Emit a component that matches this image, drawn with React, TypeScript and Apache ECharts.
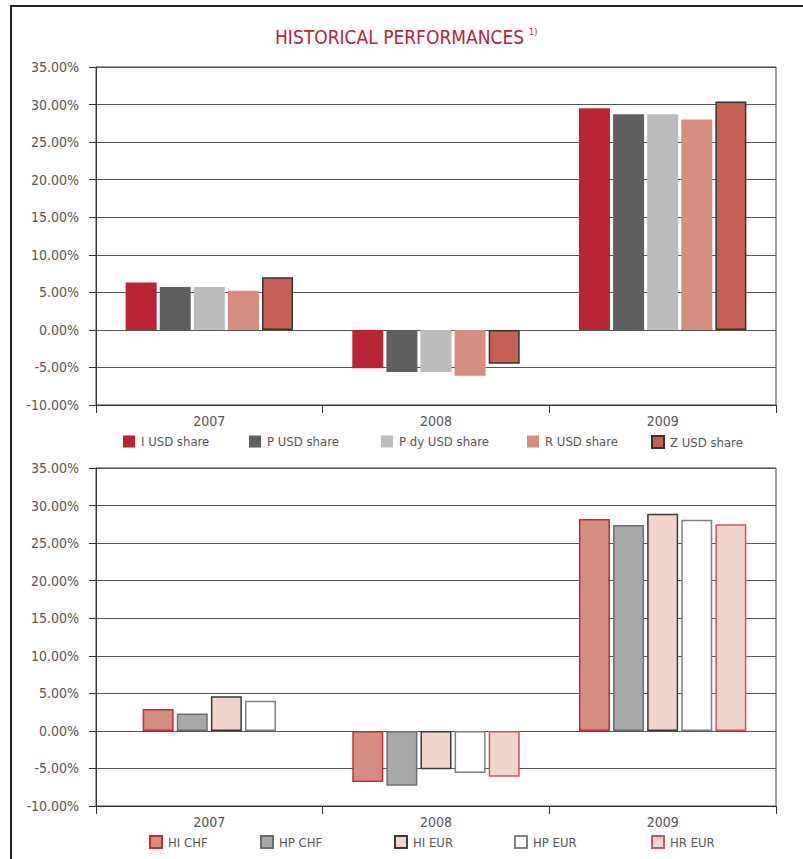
import React, { useEffect, useRef } from "react";
import * as echarts from "echarts";

const years = ["2007", "2008", "2009"];
const yTicks = { min: -10, max: 35, interval: 5 };

const topNames = ["I USD share", "P USD share", "P dy USD share", "R USD share", "Z USD share"];
const iUsd = [6.3, -5.1, 29.5];
const pUsd = [5.7, -5.6, 28.7];
const pDyUsd = [5.7, -5.6, 28.7];
const rUsd = [5.2, -6.1, 28.0];
const zUsd = [7.0, -4.5, 30.4];
const topValues = [iUsd, pUsd, pDyUsd, rUsd, zUsd];

const bottomNames = ["HI CHF", "HP CHF", "HI EUR", "HP EUR", "HR EUR"];
const hiChf = [2.9, -6.8, 28.2];
const hpChf = [2.3, -7.3, 27.4];
const hiEur = [4.6, -5.1, 28.9];
const hpEur = [4.0, -5.6, 28.1];
const hrEur = [null, -6.1, 27.5];
const bottomValues = [hiChf, hpChf, hiEur, hpEur, hrEur];

const topFill = ["#B82534", "#5E5F61", "#BBBCBE", "#D58D7F", "#C66055"];
const topBorder = [null, null, null, null, "#333333"];
const bottomFill = ["#D58D7F", "#A7A8AA", "#EFD5CE", "#FFFFFF", "#EFD5CE"];
const bottomBorder = ["#C8283A", "#6D6E71", "#3A3A3A", "#808080", "#D0505F"];

const topLegendX = [123, 249, 381, 527, 651];
const bottomLegendX = [149, 260, 394, 514, 651];

const FONT = "'Liberation Sans Narrow', 'DejaVu Sans Condensed', 'Liberation Sans', sans-serif";
const TEXT = "#555555";
const LINE = "#555555";

export default function App() {
  const ref = useRef<HTMLDivElement>(null);
  useEffect(() => {
    if (!ref.current) return;
    const chart = echarts.init(ref.current, null, { renderer: "svg" });

    const yAxisBase = (gridIndex: number) => ({
      type: "value",
      gridIndex,
      min: yTicks.min,
      max: yTicks.max,
      interval: yTicks.interval,
      axisLine: { show: true, lineStyle: { color: "#333", width: 1 } },
      axisTick: { show: true, length: 7, lineStyle: { color: "#333", width: 1 } },
      axisLabel: {
        margin: 17,
        color: TEXT,
        fontFamily: FONT,
        fontSize: 14,
        formatter: (v: number) => v.toFixed(2) + "%",
      },
      splitLine: { show: true, lineStyle: { color: LINE, width: 1 } },
    });

    const xAxisBase = (gridIndex: number, show = true) => ({
      type: "category",
      gridIndex,
      data: years,
      show,
      axisLine: { show: true, onZero: false, lineStyle: { color: "#333", width: 1 } },
      axisTick: { show: true, length: 8, lineStyle: { color: "#333", width: 1 } },
      axisLabel: { margin: 9, color: TEXT, fontFamily: FONT, fontSize: 14 },
      splitLine: { show: false },
    });

    const series: any[] = [];
    topNames.forEach((name, i) => {
      series.push({
        type: "bar",
        name,
        xAxisIndex: 0,
        yAxisIndex: 0,
        data: topValues[i],
        barWidth: 31,
        barGap: "10%",
        itemStyle: {
          color: topFill[i],
          borderColor: topBorder[i] || topFill[i],
          borderWidth: topBorder[i] ? 1.5 : 0,
        },
      });
    });
    // bottom chart: 2008 & 2009 with 5 series, 2007 with the 4 available series
    bottomNames.forEach((name, i) => {
      series.push({
        type: "bar",
        name,
        xAxisIndex: 1,
        yAxisIndex: 1,
        data: bottomValues[i].map((v, k) => (k === 0 ? null : v)),
        barWidth: 31,
        barGap: "10%",
        itemStyle: { color: bottomFill[i], borderColor: bottomBorder[i], borderWidth: 1.5 },
      });
    });
    bottomNames.forEach((name, i) => {
      if (bottomValues[i][0] === null) return;
      series.push({
        type: "bar",
        name,
        xAxisIndex: 2,
        yAxisIndex: 1,
        data: bottomValues[i].map((v, k) => (k === 0 ? v : null)),
        barWidth: 31,
        barGap: "10%",
        itemStyle: { color: bottomFill[i], borderColor: bottomBorder[i], borderWidth: 1.5 },
      });
    });

    const legendBase = {
      padding: 0,
      itemWidth: 12,
      itemHeight: 12,
      itemGap: 6,
      icon: "rect",
      selectedMode: false,
      textStyle: { color: TEXT, fontFamily: FONT, fontSize: 13, padding: [0, 0, 0, 1] },
    };
    const legends: any[] = [];
    topNames.forEach((name, i) => {
      legends.push({ ...legendBase, data: [name], left: topLegendX[i], top: 435 });
    });
    bottomNames.forEach((name, i) => {
      legends.push({ ...legendBase, data: [name], left: bottomLegendX[i], top: 835 });
    });

    chart.setOption({
      animation: false,
      backgroundColor: "#ffffff",
      title: {
        text: "{a|HISTORICAL PERFORMANCES} {b|1)}",
        left: 275,
        top: 27,
        padding: 0,
        textStyle: {
          fontWeight: "normal",
          rich: {
            a: { fontFamily: FONT, fontSize: 19, fontWeight: "normal", color: "#B82535" },
            b: { fontFamily: FONT, fontSize: 9, fontWeight: "normal", color: "#B82535", verticalAlign: "top", padding: [0, 0, 8, 0] },
          },
        },
      },
      grid: [
        { left: 96, right: 27, top: 67, height: 338, show: true, borderColor: "#444", borderWidth: 1, backgroundColor: "transparent" },
        { left: 96, right: 27, top: 468, height: 338, show: true, borderColor: "#444", borderWidth: 1, backgroundColor: "transparent" },
      ],
      xAxis: [xAxisBase(0), xAxisBase(1), xAxisBase(1, false)],
      yAxis: [yAxisBase(0), yAxisBase(1)],
      legend: legends,
      series,
      graphic: [
        { type: "line", shape: { x1: 11, y1: 5, x2: 11, y2: 859 }, style: { stroke: "#222", lineWidth: 2 } },
        { type: "line", shape: { x1: 10, y1: 6, x2: 803, y2: 6 }, style: { stroke: "#222", lineWidth: 2 } },
      ],
    });
    return () => chart.dispose();
  }, []);

  return (
    <div
      ref={ref}
      style={{ position: "fixed", left: 0, top: 0, width: 803, height: 859, background: "#fff" }}
    />
  );
}
